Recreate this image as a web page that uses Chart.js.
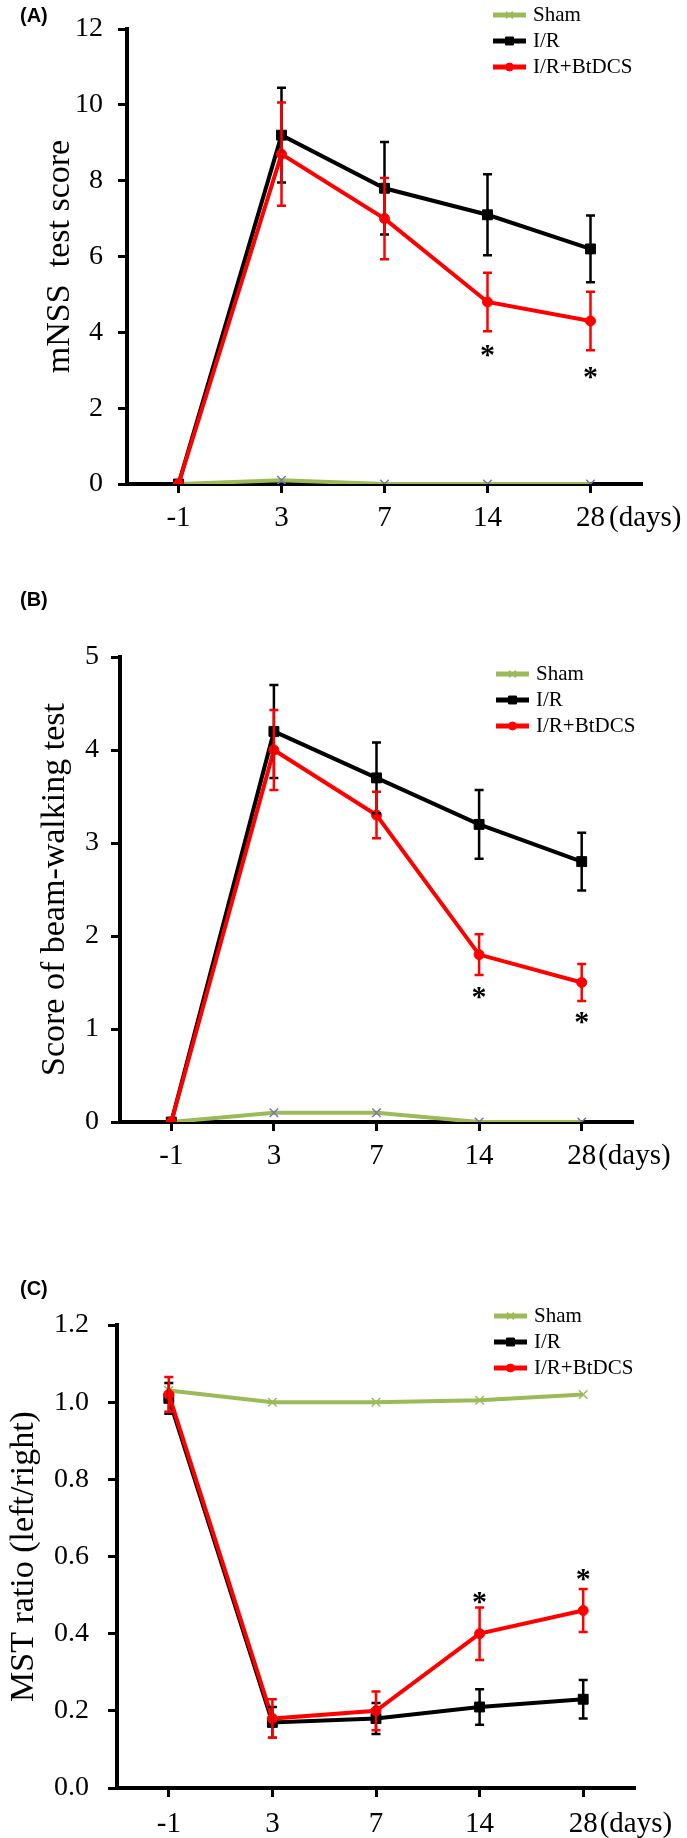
<!DOCTYPE html>
<html>
<head>
  <title>mNSS / beam-walking / MST</title>
  <script src="https://cdn.jsdelivr.net/npm/chart.js@4"></script>
  <style>
    body { margin: 0; background: #fff; width: 687px; height: 1838px; position: relative; overflow: hidden; }
    .panel { position: absolute; left: 0; width: 687px; }
    .tag { position: absolute; left: 20px; font: bold 20px "Liberation Sans", Arial, sans-serif; color: #000; }
  </style>
</head>
<body>
  <div class="panel" style="top:0;height:560px"><canvas id="chartA" width="687" height="560"></canvas></div>
  <div class="panel" style="top:560px;height:620px"><canvas id="chartB" width="687" height="620"></canvas></div>
  <div class="panel" style="top:1180px;height:658px"><canvas id="chartC" width="687" height="658"></canvas></div>
  <div class="tag" style="top:4px">(A)</div>
  <div class="tag" style="top:588px">(B)</div>
  <div class="tag" style="top:1277px">(C)</div>

  <script>
    // categories (days after I/R)
    const days = ['-1', '3', '7', '14', '28'];
    const groups = ['Sham', 'I/R', 'I/R+BtDCS'];

    // (A) mNSS test score
    const mnssSham   = [0, 0.1, 0, 0, 0];
    const mnssIR     = [0, 9.2, 7.8, 7.1, 6.2];
    const mnssIRErr  = [0, 1.25, 1.22, 1.07, 0.88];
    const mnssBt     = [0, 8.7, 7.0, 4.8, 4.3];
    const mnssBtErr  = [0, 1.36, 1.07, 0.77, 0.77];
    const mnssStars  = [null, null, null, 3.6, 3.0];

    // (B) beam-walking score
    const beamSham   = [0, 0.1, 0.1, 0, 0];
    const beamIR     = [0, 4.2, 3.7, 3.2, 2.8];
    const beamIRErr  = [0, 0.5, 0.38, 0.37, 0.31];
    const beamBt     = [0, 4.0, 3.3, 1.8, 1.5];
    const beamBtErr  = [0, 0.43, 0.25, 0.22, 0.2];
    const beamStars  = [null, null, null, 1.42, 1.15];

    // (C) MST ratio (left/right)
    const mstSham    = [1.03, 1.0, 1.0, 1.005, 1.02];
    const mstIR      = [1.01, 0.17, 0.18, 0.21, 0.23];
    const mstIRErr   = [0.04, 0.04, 0.04, 0.046, 0.05];
    const mstBt      = [1.02, 0.18, 0.2, 0.4, 0.46];
    const mstBtErr   = [0.045, 0.05, 0.05, 0.068, 0.056];
    const mstStars   = [null, null, null, 0.5, 0.56];

    const SERIF = '"Liberation Serif", "Times New Roman", serif';
    const GREEN = '#9bbb59';
    const RED = '#ff0000';

    // error bars, asterisks, legend and the "(days)" unit
    const extras = {
      id: 'extras',
      afterDatasetsDraw(chart, args, opts) {
        const ctx = chart.ctx;
        const xs = chart.scales.x, ys = chart.scales.y;
        // error bars (I/R first, red on top)
        [1, 2].forEach(i => {
          const ds = chart.data.datasets[i];
          ctx.save();
          ctx.strokeStyle = ds.borderColor;
          ctx.lineWidth = 2.5;
          ds.errors.forEach((e, j) => {
            if (!e) return;
            const x = xs.getPixelForValue(j);
            const y1 = ys.getPixelForValue(ds.data[j] + e);
            const y2 = ys.getPixelForValue(ds.data[j] - e);
            ctx.beginPath();
            ctx.moveTo(x, y1); ctx.lineTo(x, y2);
            ctx.moveTo(x - 4.5, y1); ctx.lineTo(x + 4.5, y1);
            ctx.moveTo(x - 4.5, y2); ctx.lineTo(x + 4.5, y2);
            ctx.stroke();
          });
          ctx.restore();
        });
      },
      afterDraw(chart, args, opts) {
        const ctx = chart.ctx;
        const xs = chart.scales.x, ys = chart.scales.y;
        ctx.save();
        // asterisks
        ctx.fillStyle = '#000';
        ctx.font = 'bold 30px ' + SERIF;
        ctx.textAlign = 'center';
        ctx.textBaseline = 'alphabetic';
        opts.stars.forEach((v, j) => {
          if (v == null) return;
          ctx.fillText('*', xs.getPixelForValue(j), ys.getPixelForValue(v) + 16);
        });
        // unit after the last tick label
        ctx.font = '29px ' + SERIF;
        ctx.textAlign = 'left';
        ctx.textBaseline = 'middle';
        const last = days.length - 1;
        const lx = xs.getPixelForValue(last) + ctx.measureText(days[last]).width / 2 + opts.unitGap;
        const ly = chart.chartArea.bottom + 9 + opts.xPad + 14.5;
        ctx.fillText('(days)', lx, ly);
        // legend
        ctx.font = '21px ' + SERIF;
        chart.data.datasets.forEach((ds, i) => {
          const y = opts.legendY + i * 26;
          const x0 = opts.legendX, x1 = opts.legendX + 33;
          ctx.strokeStyle = ds.borderColor;
          ctx.lineWidth = 5;
          ctx.beginPath(); ctx.moveTo(x0, y); ctx.lineTo(x1, y); ctx.stroke();
          ctx.fillStyle = ds.pointBackgroundColor;
          ctx.strokeStyle = i === 0 ? GREEN : ds.pointBorderColor;
          ctx.lineWidth = ds.pointBorderWidth;
          Chart.helpers.drawPoint(ctx, { pointStyle: ds.pointStyle, radius: ds.pointRadius * 0.8, rotation: 0, borderWidth: ds.pointBorderWidth }, (x0 + x1) / 2, y);
          ctx.fillStyle = '#000';
          ctx.fillText(ds.label, x1 + 7, y);
        });
        ctx.restore();
      }
    };

    function makeChart(id, p) {
      const H = p.height;
      return new Chart(document.getElementById(id), {
        type: 'line',
        data: {
          labels: days,
          datasets: [
            { label: groups[0], data: p.sham, borderColor: GREEN, borderWidth: 4,
              pointStyle: 'crossRot', pointRadius: 6, pointBorderWidth: 1.5,
              pointBorderColor: p.crossColor, pointBackgroundColor: p.crossColor, order: 2 },
            { label: groups[1], data: p.ir, errors: p.irErr, borderColor: '#000', borderWidth: 4,
              pointStyle: 'rect', pointRadius: 7, pointBorderWidth: 1,
              pointBorderColor: '#000', pointBackgroundColor: '#000', order: 1 },
            { label: groups[2], data: p.bt, errors: p.btErr, borderColor: RED, borderWidth: 4,
              pointStyle: 'circle', pointRadius: 5, pointBorderWidth: 1,
              pointBorderColor: RED, pointBackgroundColor: RED, order: 0 }
          ]
        },
        options: {
          animation: false,
          responsive: false,
          layout: { padding: { top: p.top, right: 687 - p.right, left: 0, bottom: 0 } },
          plugins: {
            legend: { display: false },
            tooltip: { enabled: false },
            extras: { stars: p.stars, legendX: p.legendX, legendY: p.legendY, unitGap: p.unitGap, xPad: p.xPad }
          },
          scales: {
            x: {
              offset: true,
              grid: { offset: false, drawOnChartArea: false, tickLength: 9, tickWidth: 3, color: '#000', tickColor: '#000' },
              border: { color: '#000', width: 4 },
              ticks: { color: '#000', padding: p.xPad, maxRotation: 0, autoSkip: false,
                       font: { family: SERIF, size: 29, lineHeight: 1 } },
              afterFit: s => { s.height = H - p.bottom; }
            },
            y: {
              min: 0, max: p.max,
              grid: { drawOnChartArea: false, tickLength: 9, tickWidth: 3, color: '#000', tickColor: '#000' },
              border: { color: '#000', width: 4 },
              ticks: { color: '#000', stepSize: p.step, padding: p.yPad,
                       font: { family: SERIF, size: 28, lineHeight: 1 },
                       callback: v => v.toFixed(p.digits) },
              title: { display: true, text: p.title, color: '#000',
                       font: { family: SERIF, size: 34 }, padding: { top: p.titlePad, bottom: 0 } },
              afterFit: s => { s.width = p.left; }
            }
          }
        },
        plugins: [extras]
      });
    }

    makeChart('chartA', {
      height: 560, top: 14, bottom: 484, left: 127, right: 642,
      max: 12, step: 2, digits: 0, yPad: 15, xPad: 11, titlePad: 40,
      title: 'mNSS  test score',
      sham: mnssSham, ir: mnssIR, irErr: mnssIRErr, bt: mnssBt, btErr: mnssBtErr, stars: mnssStars,
      crossColor: '#7b74ae', legendX: 493, legendY: 15, unitGap: 4
    });

    makeChart('chartB', {
      height: 620, top: 97, bottom: 562, left: 120, right: 633,
      max: 5, step: 1, digits: 0, yPad: 12, xPad: 11, titlePad: 35,
      title: 'Score of beam-walking test',
      sham: beamSham, ir: beamIR, irErr: beamIRErr, bt: beamBt, btErr: beamBtErr, stars: beamStars,
      crossColor: '#7b74ae', legendX: 496, legendY: 114, unitGap: 2
    });

    makeChart('chartC', {
      height: 658, top: 145, bottom: 608, left: 117, right: 635,
      max: 1.2, step: 0.2, digits: 1, yPad: 19, xPad: 13, titlePad: 4,
      title: 'MST ratio (left/right)',
      sham: mstSham, ir: mstIR, irErr: mstIRErr, bt: mstBt, btErr: mstBtErr, stars: mstStars,
      crossColor: GREEN, legendX: 494, legendY: 136, unitGap: 2
    });
  </script>
</body>
</html>
